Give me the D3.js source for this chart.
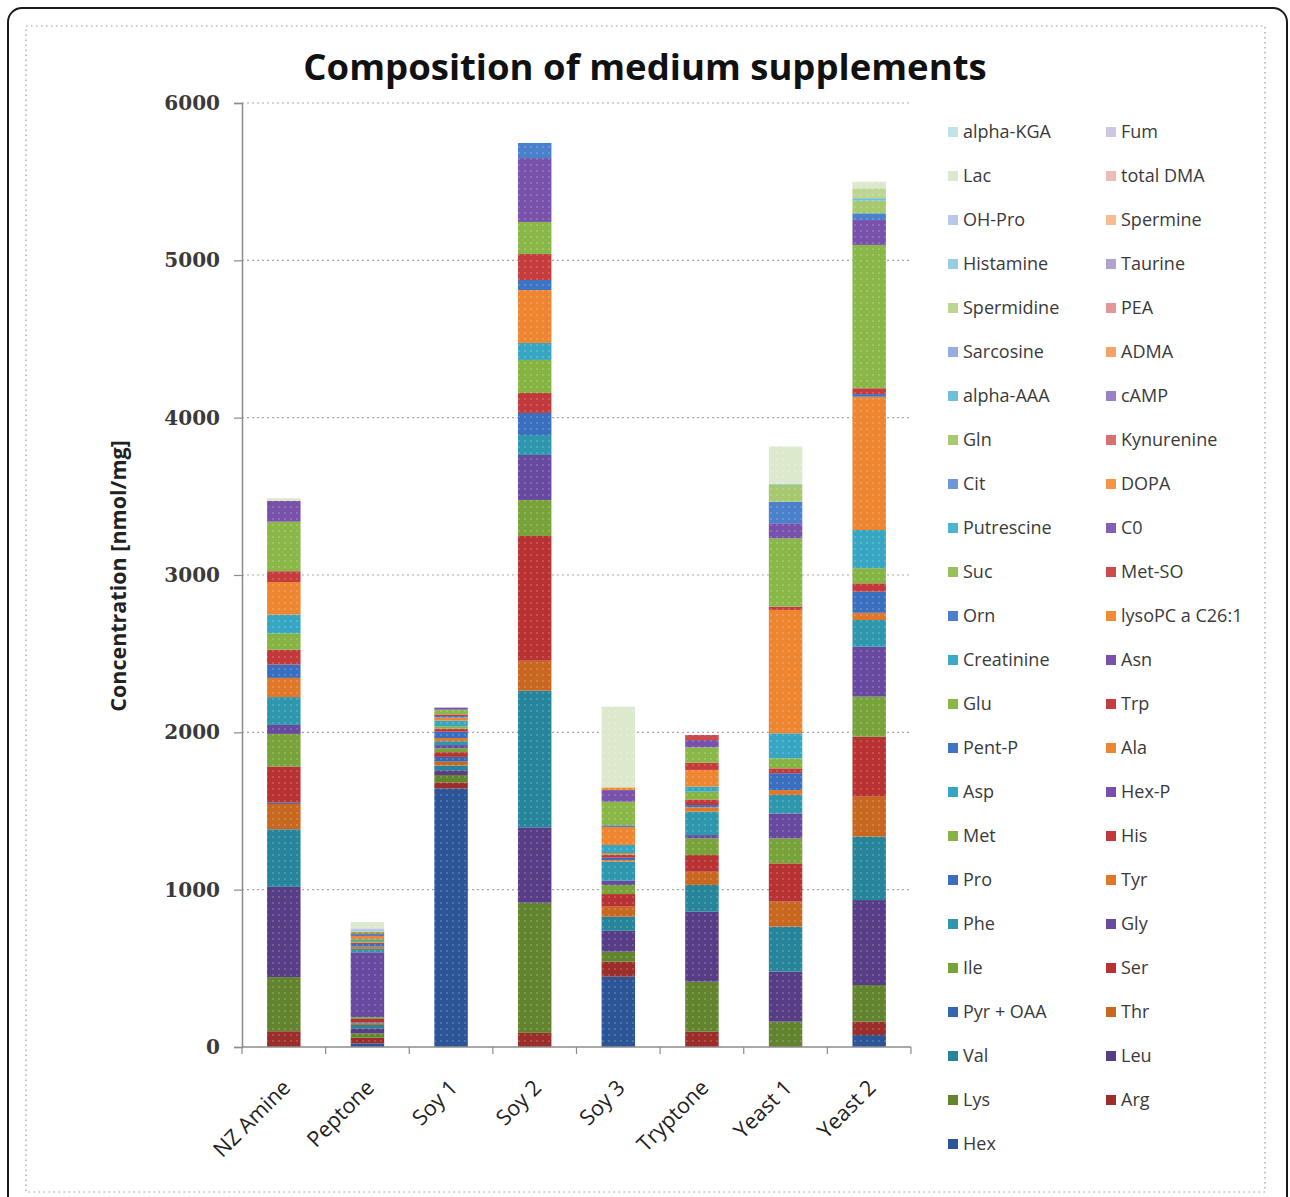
<!DOCTYPE html>
<html><head><meta charset="utf-8">
<script src="https://cdn.jsdelivr.net/npm/d3@7"></script>
<style>body{margin:0;background:#fff}</style>
</head><body><svg id="c" width="1290" height="1197"></svg>
<script>
// ---------- DATA ----------
const categories = ["NZ Amine", "Peptone", "Soy 1", "Soy 2", "Soy 3", "Tryptone", "Yeast 1", "Yeast 2"];
// stack order, bottom to top
const seriesNames = ["Hex","Arg","Lys","Leu","Val","Thr","Pyr + OAA","Ser","Ile","Gly","Phe","Tyr","Pro","His","Met","Hex-P","Asp","Ala","Pent-P","Trp","Glu","Asn","Creatinine","lysoPC a C26:1","Orn","Met-SO","Suc","C0","Putrescine","DOPA","Cit","Kynurenine","Gln","cAMP","alpha-AAA","ADMA","Sarcosine","PEA","Spermidine","Taurine","Histamine","Spermine","OH-Pro","total DMA","Lac","Fum","alpha-KGA"];
// values per series: [NZ Amine, Peptone, Soy 1, Soy 2, Soy 3, Tryptone, Yeast 1, Yeast 2]
const Hex        = [0,   23, 1644,   0, 447,   0,   0,  76];
const Arg        = [100, 36,   38,  90,  95,  97,   0,  85];
const Lys        = [344, 28,   47, 827,  64, 318, 161, 233];
const Leu        = [574, 32,   30, 479, 133, 445, 318, 540];
const Val        = [366, 21,   30, 869,  89, 170, 286, 403];
const Thr        = [161, 11,   25, 190,  64,  84, 159, 254];
const PyrOAA     = [8,    6,   30,   0,   0,   0,   0,   0];
const Ser        = [230, 21,   30, 793,  80, 106, 243, 381];
const Ile        = [207, 11,   25, 229,  58, 106, 159, 255];
const Gly        = [57, 413,   20, 286,  27,  21, 159, 317];
const Phe        = [177, 21,   25, 127, 121, 149, 117, 170];
const Tyr        = [122, 15,   20,   0,  10,  27,  31,  46];
const Pro        = [85,  17,   40, 140,  15,  15, 107, 134];
const His        = [94,   8,   20, 127,  20,  35,  31,  53];
const Met        = [104, 11,   15, 210,  10,  50,  64,  96];
const HexP       = [0,    0,    0,   0,   5,   0,   0,   0];
const Asp        = [119, 11,   35, 108,  46,  32, 159, 243];
const Ala        = [207, 21,   20, 336, 115, 106, 784, 847];
const PentP      = [0,   11,   10,  64,  10,   0,   0,  17];
const Trp        = [69,   6,   10, 165,   0,  46,  21,  37];
const Glu        = [315, 11,   30, 204, 150,  98, 434, 911];
const Asn        = [133,  0,   13, 406,  74,  46,  96, 158];
const Creatinine = [0,    0,    0,   0,   0,   0,   0,   0];
const lysoPC     = [0,    0,    0,   0,  17,   0,   0,   0];
const Orn        = [0,    0,    0,  96,   0,   0, 137,  43];
const MetSO      = [0,    0,    0,   0,   0,  32,   0,   0];
const Suc        = [0,    0,    0,   0,   0,   0,   0,   0];
const C0         = [0,    0,    0,   0,   0,   0,   0,   0];
const Putrescine = [0,    0,    0,   0,   0,   0,   0,   0];
const DOPA       = [0,    0,    0,   0,   0,   0,   0,   0];
const Cit        = [0,    0,    0,   0,   0,   0,   0,   0];
const Kynurenine = [0,    0,    0,   0,   0,   0,   0,   0];
const Gln        = [0,    0,    0,   0,   0,   0, 106,  80];
const cAMP       = [0,    0,    0,   0,   0,   0,   0,   0];
const alphaAAA   = [0,    0,    0,   0,   0,   0,   5,  16];
const ADMA       = [0,    0,    0,   0,   0,   0,   0,   0];
const Sarcosine  = [0,    0,    0,   0,   0,   0,   0,   0];
const PEA        = [0,    0,    0,   0,   0,   0,   0,   0];
const Spermidine = [0,    0,    0,   0,   0,   0,   0,  63];
const Taurine    = [0,    0,    0,   0,   0,   0,   0,   0];
const Histamine  = [0,    0,    0,   0,   0,   0,   0,   0];
const Spermine   = [0,    0,    0,   0,   0,   0,   0,   0];
const OHPro      = [0,   20,    0,   0,   0,   0,   0,   0];
const totalDMA   = [0,    0,    0,   0,   0,   0,   0,   0];
const Lac        = [16,  40,    0,   0, 513,   0, 240,  42];
const Fum        = [0,    0,    0,   0,   0,   0,   0,   0];
const alphaKGA   = [0,    0,    0,   0,   0,   0,   0,   0];
const yTicks = [0, 1000, 2000, 3000, 4000, 5000, 6000];

const seriesValues = [Hex,Arg,Lys,Leu,Val,Thr,PyrOAA,Ser,Ile,Gly,Phe,Tyr,Pro,His,Met,HexP,Asp,Ala,PentP,Trp,Glu,Asn,Creatinine,lysoPC,Orn,MetSO,Suc,C0,Putrescine,DOPA,Cit,Kynurenine,Gln,cAMP,alphaAAA,ADMA,Sarcosine,PEA,Spermidine,Taurine,Histamine,Spermine,OHPro,totalDMA,Lac,Fum,alphaKGA];

// ---------- STYLE ----------
const palette = ["#2c5597","#9b2d2a","#62842f","#573d85","#26859a","#c8671f",
  "#3566b0","#b83232","#78a33a","#6849a0","#2e96ad","#e0782a",
  "#3a6fc0","#c2393b","#86b442","#7650ae","#36a6c2","#ee8530",
  "#3f74c4","#c43c3c","#8ab848","#7852aa","#3aaac8","#f18a35",
  "#4a80cc","#cc4a4a","#98c05a","#8460b4","#4cb4d0","#f49444",
  "#6f96d8","#d87070","#a6c86e","#9a80c4","#6cc0d8","#f6a466",
  "#92aee0","#e29898","#bcd692","#b2a2d2","#94cee0","#f8bc90",
  "#b8c8ea","#ecbcbc","#dde9cc","#cec6e4","#bfe2ec"];

const svg = d3.select("#c");
const color = d3.scaleOrdinal().domain(seriesNames).range(palette);

// frames
svg.append("rect").attr("x", 8).attr("y", 8).attr("width", 1279).attr("height", 1210)
  .attr("rx", 14).attr("fill", "#fff").attr("stroke", "#1a1a1a").attr("stroke-width", 2);
svg.append("rect").attr("x", 26).attr("y", 26).attr("width", 1239).attr("height", 1166)
  .attr("fill", "none").attr("stroke", "#9a9a9a").attr("stroke-width", 1.2).attr("stroke-dasharray", "1.5,3.5");

// dot pattern to imitate texture
const defs = svg.append("defs");
const pat = defs.append("pattern").attr("id", "dots").attr("width", 6).attr("height", 6).attr("patternUnits", "userSpaceOnUse");
pat.append("circle").attr("cx", 3).attr("cy", 3).attr("r", 1).attr("fill", "#fff").attr("opacity", 0.22);

const x = d3.scaleBand().domain(categories).range([242, 911]).paddingInner(0.6).paddingOuter(0.3);
const y = d3.scaleLinear().domain([0, 6000]).range([1047, 103]);

// gridlines
svg.append("g").selectAll("line").data(yTicks.filter(d => d > 0)).join("line")
  .attr("x1", 242).attr("x2", 911).attr("y1", d => y(d)).attr("y2", d => y(d))
  .attr("stroke", "#a8a8a8").attr("stroke-width", 1.2).attr("stroke-dasharray", "2,3");

// stacked data
const rows = categories.map((c, i) => {
  const o = { category: c };
  seriesNames.forEach((s, j) => { o[s] = seriesValues[j][i]; });
  return o;
});
const stacked = d3.stack().keys(seriesNames)(rows);

const barsG = svg.append("g");
stacked.forEach(layer => {
  const segs = layer.filter(d => d[1] - d[0] > 0);
  barsG.selectAll(null).data(segs).join("rect")
    .attr("x", d => x(d.data.category)).attr("width", x.bandwidth())
    .attr("y", d => y(d[1])).attr("height", d => y(d[0]) - y(d[1]))
    .attr("fill", color(layer.key));
  barsG.selectAll(null).data(segs).join("rect")
    .attr("x", d => x(d.data.category)).attr("width", x.bandwidth())
    .attr("y", d => y(d[1])).attr("height", d => y(d[0]) - y(d[1]))
    .attr("fill", "url(#dots)");
});

// y axis
const yAxis = d3.axisLeft(y).tickValues(yTicks).tickSize(8).tickPadding(14).tickFormat(d3.format("d"));
const gy = svg.append("g").attr("transform", "translate(242,0)").call(yAxis);
gy.select(".domain").attr("stroke", "#8c8c8c").attr("stroke-width", 1.5);
gy.selectAll(".tick line").attr("stroke", "#8c8c8c").attr("stroke-width", 1.2);
gy.selectAll(".tick text").attr("font-family", "'DejaVu Serif', serif").attr("font-weight", "bold")
  .attr("font-size", 20).attr("fill", "#3a3a3a");

// x axis
const gx = svg.append("g").attr("transform", "translate(0,1047)");
gx.append("line").attr("x1", 242).attr("x2", 911).attr("stroke", "#8c8c8c").attr("stroke-width", 1.5);
const bounds = categories.map(c => x(c) - x.step() * x.paddingInner() / 2).concat([911]);
gx.selectAll(".xt").data(bounds).join("line").attr("class", "xt")
  .attr("x1", d => d).attr("x2", d => d).attr("y1", 0).attr("y2", 7)
  .attr("stroke", "#8c8c8c").attr("stroke-width", 1.2);
gx.selectAll(".xl").data(categories).join("text").attr("class", "xl")
  .attr("text-anchor", "end").attr("font-family", "'Open Sans', sans-serif").attr("font-size", 21.5)
  .attr("fill", "#222").text(d => d)
  .attr("transform", d => `translate(${x(d) + x.bandwidth() / 2 + 8},${42}) rotate(-45)`);

// y title
svg.append("text").attr("transform", "translate(126,576) rotate(-90)")
  .attr("text-anchor", "middle").attr("font-family", "'Open Sans', sans-serif").attr("font-weight", "bold")
  .attr("font-size", 21.5).attr("fill", "#222").text("Concentration [nmol/mg]");

// title
svg.append("text").attr("x", 645).attr("y", 80).attr("text-anchor", "middle")
  .attr("font-family", "'Open Sans', sans-serif").attr("font-weight", "bold").attr("font-size", 36.5)
  .attr("fill", "#111").text("Composition of medium supplements");

// legend (reverse order, two columns)
const legendItems = seriesNames.slice().reverse();
const lg = svg.append("g");
const li = lg.selectAll("g").data(legendItems).join("g")
  .attr("transform", (d, i) => `translate(${i % 2 === 0 ? 948 : 1106},${132 + Math.floor(i / 2) * 44})`);
li.append("rect").attr("x", 0).attr("y", -5).attr("width", 10).attr("height", 10).attr("fill", d => color(d));
li.append("text").attr("x", 15).attr("y", 0).attr("dy", "0.35em")
  .attr("font-family", "'Open Sans', sans-serif").attr("font-size", 18).attr("fill", "#3a3a3a").text(d => d);
</script>
</body></html>
